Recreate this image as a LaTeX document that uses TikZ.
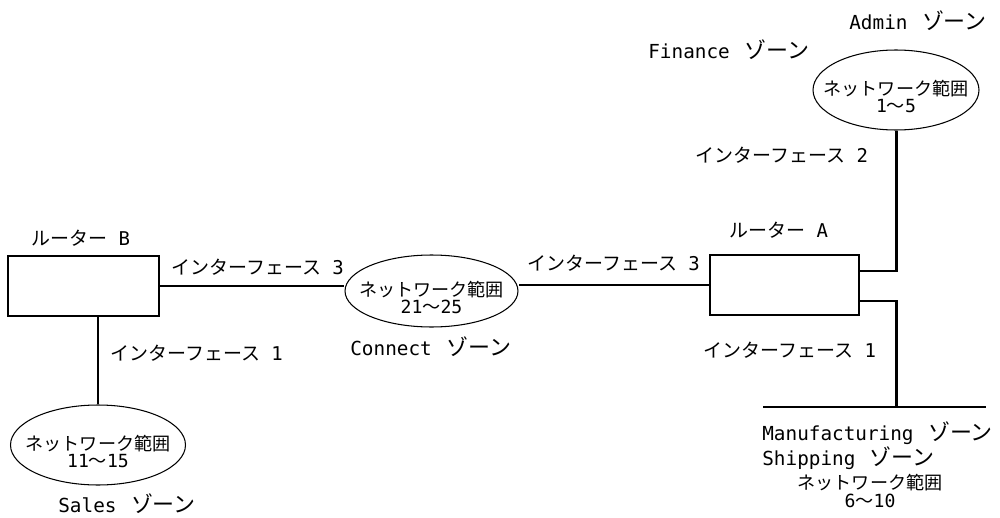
\documentclass[tikz,border=0pt]{standalone}
\usepackage{fontspec}
\setmainfont{DejaVu Sans Mono}
\newfontfamily\jp{Noto Sans CJK JP}
\newcommand{\J}[1]{{\jp #1}}
\newcommand{\Zn}{\hspace{0.75em}{\jp\fontsize{12.5pt}{12pt}\selectfont ゾーン}}
\usetikzlibrary{shapes.geometric}
\begin{document}
\begin{tikzpicture}[x=0.02cm,y=-0.02cm,
  every node/.style={inner sep=0pt},
  router/.style={draw, line width=0.6pt, minimum width=#1, minimum height=1.2cm},
  netzone/.style={draw, ellipse, line width=0.6pt},
  nettext/.style={align=center, font=\fontsize{10.3pt}{9.8pt}\selectfont, yshift=-0.13cm},
  lbl/.style={anchor=west, font=\fontsize{10.8pt}{12pt}\selectfont},
  zlbl/.style={anchor=west, font=\fontsize{11pt}{12pt}\selectfont},
  link/.style={line width=1.7pt}]
\useasboundingbox (0,0) rectangle (1000,517);

% routers
\node[router=3.02cm] (rB) at (83.5,286) {};
\node[router=2.98cm] (rA) at (784.5,285) {};

% network ellipses
\node[netzone, minimum width=3.5cm, minimum height=1.6cm] (sales) at (98,445) {};
\node[nettext] (salest) at (sales.center) {\J{ネットワーク範囲}\\11\J{〜}15};
\node[netzone, minimum width=3.46cm, minimum height=1.44cm] (conn) at (431.5,291) {};
\node[nettext] (connt) at (conn.center) {\J{ネットワーク範囲}\\21\J{〜}25};
\node[netzone, minimum width=3.32cm, minimum height=1.6cm] (admin) at (896,90) {};
\node[nettext] (admint) at (admin.center) {\J{ネットワーク範囲}\\1\J{〜}5};

% bus
\coordinate (busL) at (763,407);
\coordinate (busR) at (986,407);
\coordinate (busT) at (896,407);

% connectors
\draw[link] (rB.east) -- (rB.east -| conn.west);
\draw[link] (rA.west) -- (rA.west -| conn.east);
\draw[link] (sales.north |- rB.south) -- (sales.north);
\draw[link] ([yshift=0.28cm]rA.east) -| (admin.south);
\draw[link] ([yshift=-0.32cm]rA.east) -| (busT);
\draw[link] (busL) -- (busR);

% labels
\node[lbl] (lrB) at (31,238) {\J{ルーター} B};
\node[lbl] (lif3l) at (171,267) {\J{インターフェース} 3};
\node[lbl] (lif1l) at (110,353) {\J{インターフェース} 1};
\node[zlbl] (lsales) at (58,504) {Sales\Zn};
\node[zlbl] (lconn) at (350,347) {Connect\Zn};
\node[lbl] (lif3r) at (527,263) {\J{インターフェース} 3};
\node[lbl] (lrA) at (729,230) {\J{ルーター} A};
\node[lbl] (lif2) at (695,155) {\J{インターフェース} 2};
\node[zlbl] (lfin) at (648,50) {Finance\Zn};
\node[zlbl] (ladmin) at (849,21) {Admin\Zn};
\node[lbl] (lif1r) at (703,350) {\J{インターフェース} 1};
\node[zlbl] (lmfg) at (762,433) {Manufacturing\Zn};
\node[zlbl] (lship) at (762,458) {Shipping\Zn};
\node[align=center, font=\fontsize{10.3pt}{9.8pt}\selectfont] (lmfgnet) at (870,491) {\J{ネットワーク範囲}\\6\J{〜}10};
\end{tikzpicture}
\end{document}
